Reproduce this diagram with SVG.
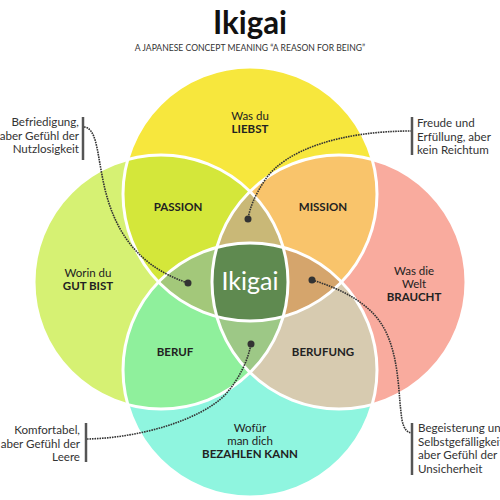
<svg xmlns="http://www.w3.org/2000/svg" width="500" height="500" viewBox="0 0 500 500">
<style>
  .lbl{font-family:Lato,"Open Sans","Liberation Sans",sans-serif;font-size:11.5px;fill:#222;text-anchor:middle}
  .b{font-weight:bold}
  .ann{font-family:Lato,"Open Sans","Liberation Sans",sans-serif;font-size:11.6px;fill:#333}
  .bar{stroke:#555;stroke-width:2.5}
  .con{fill:none;stroke:#333;stroke-width:1.6;stroke-dasharray:1.6 0.9}
  .dot{fill:#333}
  .edge{fill:none;stroke:#fff;stroke-width:3}
</style>
<defs>
  <clipPath id="cT"><circle cx="250" cy="194" r="127"/></clipPath>
  <clipPath id="cL"><circle cx="161" cy="282" r="127"/></clipPath>
  <clipPath id="cR"><circle cx="339" cy="282" r="127"/></clipPath>
  <clipPath id="cB"><circle cx="250" cy="370" r="127"/></clipPath>
</defs>
<rect width="500" height="500" fill="#fff"/>

<g id="title">
  <text x="250" y="34" font-family="Lato,'Open Sans',sans-serif" font-weight="bold" font-size="32" fill="#111" text-anchor="middle" textLength="74" lengthAdjust="spacingAndGlyphs">Ikigai</text>
  <text x="250" y="51" font-family="Lato,'Open Sans',sans-serif" font-size="8.6" fill="#333" text-anchor="middle">A JAPANESE CONCEPT MEANING “A REASON FOR BEING”</text>
</g>

<g id="circle-top"><circle cx="250" cy="194" r="127" fill="#f7e73d"/></g>
<g id="circle-left"><circle cx="161" cy="282" r="127" fill="#d6f173"/></g>
<g id="circle-right"><circle cx="339" cy="282" r="127" fill="#f9ab9e"/></g>
<g id="circle-bottom"><circle cx="250" cy="370" r="127" fill="#8ff5df"/></g>

<g id="passion" clip-path="url(#cT)"><circle cx="161" cy="282" r="127" fill="#d4e73a"/></g>
<g id="mission" clip-path="url(#cT)"><circle cx="339" cy="282" r="127" fill="#f9c46b"/></g>
<g id="beruf" clip-path="url(#cB)"><circle cx="161" cy="282" r="127" fill="#8ff09c"/></g>
<g id="berufung" clip-path="url(#cB)"><circle cx="339" cy="282" r="127" fill="#d7cbb0"/></g>

<g id="petal-top" clip-path="url(#cT)"><g clip-path="url(#cL)"><circle cx="339" cy="282" r="127" fill="#c9b877"/></g></g>
<g id="petal-left" clip-path="url(#cT)"><g clip-path="url(#cB)"><circle cx="161" cy="282" r="127" fill="#a3c87a"/></g></g>
<g id="petal-right" clip-path="url(#cT)"><g clip-path="url(#cB)"><circle cx="339" cy="282" r="127" fill="#d5a56c"/></g></g>
<g id="petal-bottom" clip-path="url(#cB)"><g clip-path="url(#cL)"><circle cx="339" cy="282" r="127" fill="#9dc886"/></g></g>
<g id="ikigai-center" clip-path="url(#cT)"><g clip-path="url(#cB)"><g clip-path="url(#cL)"><circle cx="339" cy="282" r="127" fill="#5f8a50"/></g></g></g>

<g id="edges">
  <circle class="edge" cx="250" cy="194" r="127"/>
  <circle class="edge" cx="161" cy="282" r="127"/>
  <circle class="edge" cx="339" cy="282" r="127"/>
  <circle class="edge" cx="250" cy="370" r="127"/>
</g>

<g id="labels">
  <text class="lbl" x="250" y="120">Was du</text>
  <text class="lbl b" x="250" y="133">LIEBST</text>
  <text class="lbl" x="88" y="277">Worin du</text>
  <text class="lbl b" x="88" y="290">GUT BIST</text>
  <text class="lbl" x="414" y="275">Was die</text>
  <text class="lbl" x="414" y="288">Welt</text>
  <text class="lbl b" x="414" y="301">BRAUCHT</text>
  <text class="lbl" x="250" y="432">Wofür</text>
  <text class="lbl" x="250" y="445">man dich</text>
  <text class="lbl b" x="250" y="458">BEZAHLEN KANN</text>
  <text class="lbl b" x="178" y="211">PASSION</text>
  <text class="lbl b" x="323" y="211">MISSION</text>
  <text class="lbl b" x="175" y="356">BERUF</text>
  <text class="lbl b" x="323" y="356">BERUFUNG</text>
  <text x="250" y="290" font-family="Lato,'Open Sans',sans-serif" font-size="25" fill="#fff" text-anchor="middle">Ikigai</text>
</g>

<g id="connectors">
  <path class="con" d="M84,127 C96,128 97,150 102,175 C110,220 130,264 188,283"/>
  <path class="con" d="M412,131 C340,131 285,150 265,180 C255,195 250,207 248,219"/>
  <path class="con" d="M87,439 C140,438 200,420 225,395 C240,378 248,360 251,344"/>
  <path class="con" d="M312,280 C345,290 372,305 385,330 C400,360 398,395 402,420 C404,430 408,433 412,433"/>
  <circle class="dot" cx="188" cy="283" r="3.5"/>
  <circle class="dot" cx="248" cy="219" r="3.5"/>
  <circle class="dot" cx="251" cy="344" r="3.5"/>
  <circle class="dot" cx="312" cy="280" r="3.5"/>
</g>

<g id="note-top-left">
  <line class="bar" x1="83" y1="117" x2="83" y2="160"/>
  <text class="ann" x="79" y="126" text-anchor="end">Befriedigung,</text>
  <text class="ann" x="79" y="139.5" text-anchor="end">aber Gefühl der</text>
  <text class="ann" x="79" y="153" text-anchor="end">Nutzlosigkeit</text>
</g>
<g id="note-top-right">
  <line class="bar" x1="412" y1="117" x2="412" y2="155"/>
  <text class="ann" x="417" y="127">Freude und</text>
  <text class="ann" x="417" y="140.5">Erfüllung, aber</text>
  <text class="ann" x="417" y="154">kein Reichtum</text>
</g>
<g id="note-bottom-left">
  <line class="bar" x1="86" y1="423" x2="86" y2="462"/>
  <text class="ann" x="80" y="434" text-anchor="end">Komfortabel,</text>
  <text class="ann" x="80" y="447.5" text-anchor="end">aber Gefühl der</text>
  <text class="ann" x="80" y="461" text-anchor="end">Leere</text>
</g>
<g id="note-bottom-right">
  <line class="bar" x1="412" y1="423" x2="412" y2="475"/>
  <text class="ann" x="418" y="432">Begeisterung und</text>
  <text class="ann" x="418" y="445.5">Selbstgefälligkeit,</text>
  <text class="ann" x="418" y="459">aber Gefühl der</text>
  <text class="ann" x="418" y="472.5">Unsicherheit</text>
</g>
</svg>
